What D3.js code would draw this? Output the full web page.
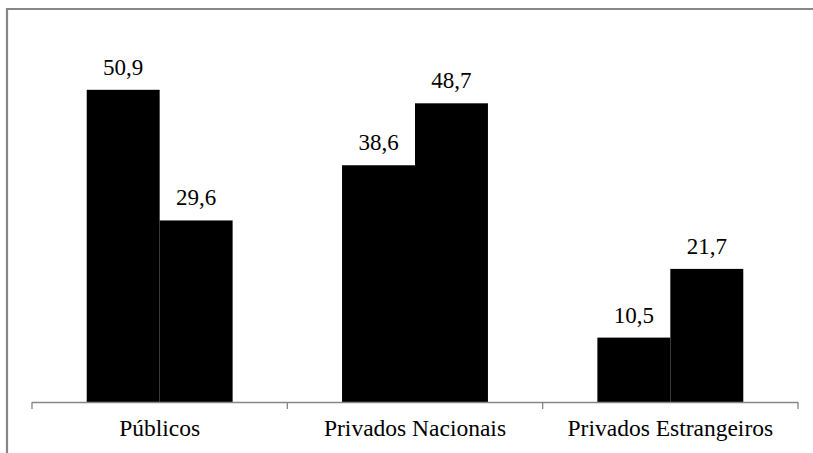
<!DOCTYPE html>
<html>
<head>
<meta charset="utf-8">
<script src="https://cdn.jsdelivr.net/npm/d3@7"></script>
<style>
  body { margin: 0; background: #fff; overflow: hidden; }
  svg text { font-family: "Liberation Serif", "DejaVu Serif", "Noto Serif", Tinos, serif; }
</style>
</head>
<body>
<script>
  const categories = ['Públicos', 'Privados Nacionais', 'Privados Estrangeiros'];
  const series = ['a', 'b'];
  const valuesA = [50.9, 38.6, 10.5];
  const valuesB = [29.6, 48.7, 21.7];
  const valueLabels = ['50,9', '38,6', '10,5', '29,6', '48,7', '21,7'];

  const width = 813;
  const height = 453;
  const margin = { top: 34, right: 15, bottom: 51, left: 32 };

  const data = [];
  categories.forEach((c, i) => {
    data.push({ cat: c, s: 'a', v: valuesA[i], label: valueLabels[i] });
    data.push({ cat: c, s: 'b', v: valuesB[i], label: valueLabels[i + 3] });
  });

  const svg = d3.select('body')
    .append('svg')
    .attr('width', width)
    .attr('height', height)
    .style('display', 'block');

  // frame: only the top and left edges show in the crop
  const frame = svg.append('g')
    .attr('stroke', '#868686')
    .attr('stroke-width', 2.2);
  frame.append('line')
    .attr('x1', 6).attr('x2', width)
    .attr('y1', 9).attr('y2', 9);
  frame.append('line')
    .attr('x1', 7).attr('x2', 7)
    .attr('y1', 8).attr('y2', height);

  const x0 = d3.scaleBand()
    .domain(categories)
    .range([margin.left, width - margin.right])
    .padding(0);

  const x1 = d3.scaleBand()
    .domain(series)
    .range([0, x0.bandwidth()])
    .paddingInner(0)
    .paddingOuter(0.75);

  const y = d3.scaleLinear()
    .domain([0, 60])
    .range([height - margin.bottom, margin.top]);

  const bars = svg.append('g');

  bars.selectAll('rect')
    .data(data)
    .join('rect')
    .attr('x', (d) => x0(d.cat) + x1(d.s))
    .attr('y', (d) => y(d.v))
    .attr('width', x1.bandwidth())
    .attr('height', (d) => y(0) - y(d.v))
    .attr('fill', '#000');

  bars.selectAll('text')
    .data(data)
    .join('text')
    .attr('x', (d) => x0(d.cat) + x1(d.s) + x1.bandwidth() / 2)
    .attr('y', (d) => y(d.v) - 15)
    .attr('text-anchor', 'middle')
    .style('font-size', '23px')
    .attr('fill', '#000')
    .text((d) => d.label);

  // category axis, ticks between groups
  const axis = svg.append('g');
  const [r0, r1] = x0.range();
  axis.append('line')
    .attr('x1', r0)
    .attr('x2', r1)
    .attr('y1', y(0) + 0.5)
    .attr('y2', y(0) + 0.5)
    .attr('stroke', '#868686')
    .attr('stroke-width', 1.3);

  const bounds = categories.map((c) => x0(c)).concat([r1]);
  axis.selectAll('.tick')
    .data(bounds)
    .join('line')
    .attr('class', 'tick')
    .attr('x1', (d) => d)
    .attr('x2', (d) => d)
    .attr('y1', y(0))
    .attr('y2', y(0) + 7)
    .attr('stroke', '#868686')
    .attr('stroke-width', 1.3);

  axis.selectAll('text')
    .data(categories)
    .join('text')
    .attr('x', (d) => x0(d) + x0.bandwidth() / 2)
    .attr('y', y(0) + 34)
    .attr('text-anchor', 'middle')
    .style('font-size', '23.5px')
    .attr('fill', '#000')
    .text((d) => d);
</script>
</body>
</html>
